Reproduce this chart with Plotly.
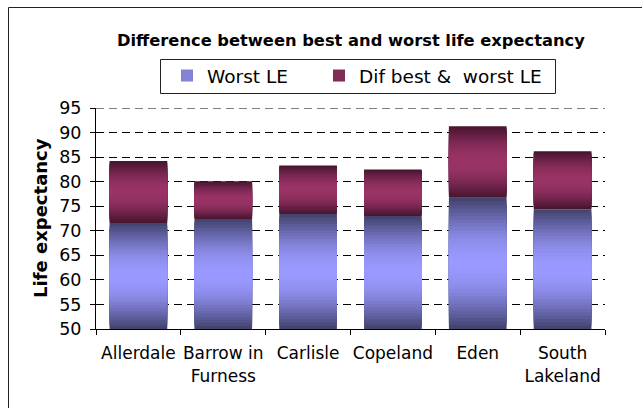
import math
import plotly.graph_objects as go

# ---- data ----
categories = ["Allerdale", "Barrow in<br>Furness", "Carlisle", "Copeland", "Eden", "South<br>Lakeland"]
worst_le = [71.6, 72.4, 73.4, 73.0, 76.7, 74.4]
dif_best_worst = [12.6, 7.7, 9.9, 9.5, 14.6, 11.8]
y_ticks = [50, 55, 60, 65, 70, 75, 80, 85, 90, 95]
series_names = ["Worst LE", "Dif best & \u00a0worst LE"]
chart_title = "Difference between best and worst life expectancy"
y_title = "Life expectancy"

# ---- geometry ----
W, H = 642, 408
ML, MR, MT, MB = 96, 37, 108, 79
PW, PH = W - ML - MR, H - MT - MB
Y0, Y1 = 50, 95


def px_x(px):
    return (px - ML) / PW


def px_y(py):
    return (H - MB - py) / PH


def hex2rgb(h):
    h = h.lstrip("#")
    return [int(h[i:i + 2], 16) for i in (0, 2, 4)]


def lerp(c1, c2, t):
    a, b = hex2rgb(c1), hex2rgb(c2)
    return "rgb(%d,%d,%d)" % tuple(round(a[i] + (b[i] - a[i]) * t) for i in range(3))


FONT = "DejaVu Sans"
FS = 18.5
fig = go.Figure()

N = 18
bottoms_worst = [Y0] * len(worst_le)
tops_worst = worst_le
bottoms_dif = worst_le
tops_dif = [w + d for w, d in zip(worst_le, dif_best_worst)]

series = [
    (series_names[0], bottoms_worst, tops_worst, "#40406a", "#9999ff", "legend"),
    (series_names[1], bottoms_dif, tops_dif, "#45142e", "#993366", "legend2"),
]
for name, bots, tops, edge, center, lg in series:
    for k in range(N):
        f = 1 - k / N
        d = (k + 0.5) / N
        t = math.sin(math.pi / 2 * d)
        col = lerp(edge, center, t)
        heights = [(tp - bt) * f for bt, tp in zip(bots, tops)]
        bases = [(bt + tp) / 2 - h / 2 for bt, tp, h in zip(bots, tops, heights)]
        show = (k == N // 2)
        fig.add_trace(go.Bar(
            x=categories, y=heights, base=bases, name=name,
            legendgroup=name, showlegend=show, legend=lg,
            marker=dict(color=col, line=dict(width=0)),
            hoverinfo="skip" if not show else None,
        ))

legend_common = dict(
    orientation="h", yanchor="middle", y=px_y(76), xanchor="left",
    bgcolor="rgba(0,0,0,0)", borderwidth=0,
    font=dict(family=FONT, size=FS, color="black"),
)

fig.update_layout(
    width=W, height=H,
    margin=dict(l=ML, r=MR, t=MT, b=MB, autoexpand=False),
    paper_bgcolor="white", plot_bgcolor="white",
    barmode="overlay", bargap=0.32,
    font=dict(family=FONT, size=FS, color="black"),
    showlegend=True,
    legend=dict(legend_common, x=px_x(167)),
    legend2=dict(legend_common, x=px_x(319)),
    xaxis=dict(
        showline=True, linecolor="black", linewidth=1,
        ticks="outside", ticklen=5, tickcolor="black", tickson="boundaries",
        tickangle=0, automargin=False, ticklabelstandoff=9,
        showgrid=False, tickfont=dict(family=FONT, size=17, color="black"),
        fixedrange=True,
    ),
    yaxis=dict(
        range=[Y0, Y1], tickvals=y_ticks, automargin=False,
        showline=True, linecolor="black", linewidth=1,
        ticks="outside", ticklen=5, tickcolor="black", ticklabelstandoff=5,
        showgrid=True, gridcolor="#000", gridwidth=1, griddash="8px,5px",
        zeroline=False, tickfont=dict(family=FONT, size=17.5, color="black"),
        fixedrange=True,
    ),
    annotations=[
        dict(text="<b>%s</b>" % chart_title, xref="paper", yref="paper",
             x=px_x(351), y=px_y(40), xanchor="center", yanchor="middle",
             showarrow=False, font=dict(family=FONT, size=16.3, color="black")),
        dict(text="<b>%s</b>" % y_title, xref="paper", yref="paper",
             x=px_x(40), y=px_y(218), xanchor="center", yanchor="middle",
             textangle=-90, showarrow=False,
             font=dict(family=FONT, size=18, color="black")),
    ],
    shapes=[
        dict(type="line", xref="paper", yref="paper",
             x0=px_x(8.5), x1=px_x(8.5), y0=px_y(7.5), y1=px_y(H + 5),
             line=dict(color="#222", width=1)),
        dict(type="line", xref="paper", yref="paper",
             x0=px_x(8.5), x1=px_x(W + 5), y0=px_y(7.5), y1=px_y(7.5),
             line=dict(color="#222", width=1)),
        dict(type="rect", xref="paper", yref="paper",
             x0=px_x(160.5), x1=px_x(555.5), y0=px_y(59.5), y1=px_y(93.5),
             line=dict(color="#222", width=1), fillcolor="rgba(0,0,0,0)"),
        dict(type="line", xref="paper", yref="y", layer="below",
             x0=0, x1=1, y0=Y1, y1=Y1,
             line=dict(color="#000", width=1, dash="8px,5px")),
    ],
)

fig.write_html(
    "out.html",
    config={"displayModeBar": False},
    post_script="document.body.style.margin='0';document.body.style.overflow='hidden';",
)
